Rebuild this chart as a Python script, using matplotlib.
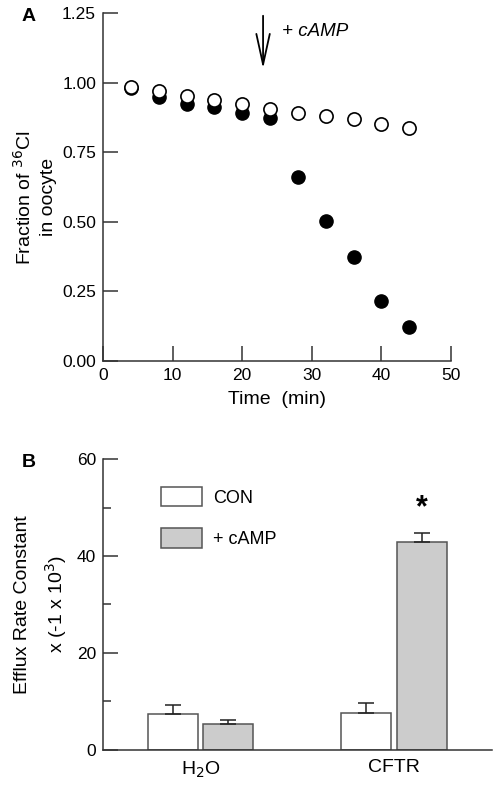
import matplotlib
matplotlib.use("Agg")
import matplotlib.pyplot as plt
from matplotlib.patches import Patch

plt.rcParams['font.family'] = ['Liberation Sans', 'DejaVu Sans']

# panel A data: fraction of 36Cl remaining in oocyte
time_min = [4, 8, 12, 16, 20, 24, 28, 32, 36, 40, 44]
frac_control = [0.984, 0.97, 0.952, 0.938, 0.922, 0.906, 0.891, 0.88, 0.868, 0.851, 0.838]
frac_cftr = [0.982, 0.948, 0.922, 0.911, 0.891, 0.872, 0.662, 0.503, 0.372, 0.217, 0.122]
camp_time = 23

# panel B data: efflux rate constants
groups = ['H$_2$O', 'CFTR']
con_vals = [7.3, 7.5]
con_err = [1.9, 2.1]
camp_vals = [5.4, 43.0]
camp_err = [0.7, 1.8]

axis_col = '#333333'
fig = plt.figure(figsize=(4.98, 7.87), dpi=100)

# ---- panel A ----
ax1 = fig.add_axes([0.2068, 0.5413, 0.6988, 0.4422])
ax1.plot(time_min, frac_cftr, 'o', color='black', markersize=9.5, zorder=2)
ax1.plot(time_min, frac_control, 'o', markerfacecolor='white', markeredgecolor='black',
         markeredgewidth=1.2, markersize=9.5, zorder=3)
ax1.annotate('', xy=(camp_time, 1.04), xytext=(camp_time, 1.25),
             arrowprops=dict(arrowstyle='->,head_length=1.0,head_width=0.22',
                             color='black', lw=1.3, mutation_scale=22))
ax1.text(camp_time + 2.7, 1.185, '+ cAMP', fontsize=13.5, style='italic', va='center')
ax1.set_xlim(0, 50)
ax1.set_ylim(0, 1.25)
ax1.set_xticks([0, 10, 20, 30, 40, 50])
ax1.set_yticks([0, 0.25, 0.5, 0.75, 1.0, 1.25])
ax1.set_yticklabels(['0.00', '0.25', '0.50', '0.75', '1.00', '1.25'])
ax1.tick_params(direction='in', length=11, width=1.1, color=axis_col, labelsize=12.5, pad=5)
ax1.set_xlabel('Time  (min)', fontsize=14, labelpad=6)
ax1.set_ylabel('Fraction of $^{36}$Cl\nin oocyte', fontsize=14, linespacing=1.4)
ax1.yaxis.set_label_coords(-0.133, 0.47)
for s in ['top', 'right']:
    ax1.spines[s].set_visible(False)
for s in ['left', 'bottom']:
    ax1.spines[s].set_color(axis_col)
    ax1.spines[s].set_linewidth(1.1)
fig.text(0.057, 0.979, 'A', fontsize=14, fontweight='bold', va='center', ha='center')

# ---- panel B ----
ax2 = fig.add_axes([0.2068, 0.0474, 0.7805, 0.369])
pos = [1, 2]
w = 0.258
off = 0.1437
ax2.bar([p - off for p in pos], con_vals, w, color='white', edgecolor='#555555', linewidth=1.1,
        yerr=[[0, 0], con_err], capsize=6, error_kw=dict(ecolor='#222222', elinewidth=1.1, capthick=1.1))
ax2.bar([p + off for p in pos], camp_vals, w, color='#cccccc', edgecolor='#555555', linewidth=1.1,
        yerr=[[0, 0], camp_err], capsize=6, error_kw=dict(ecolor='#222222', elinewidth=1.1, capthick=1.1))
ax2.text(pos[1] + off, 49.8, '*', fontsize=22, fontweight='bold', ha='center', va='center')
ax2.set_xlim(0.496, 2.505)
ax2.set_ylim(0, 60)
ax2.set_xticks(pos)
ax2.set_xticklabels(groups, fontsize=14)
ax2.set_yticks([0, 20, 40, 60])
ax2.set_yticks([10, 30, 50], minor=True)
ax2.tick_params(axis='y', which='major', direction='in', length=11, width=1.1, color=axis_col,
                labelsize=12.5, pad=5)
ax2.tick_params(axis='y', which='minor', direction='in', length=6, width=1.1, color=axis_col)
ax2.tick_params(axis='x', length=0, pad=7)
ax2.set_ylabel('Efflux Rate Constant\nx (-1 x 10$^3$)', fontsize=14, linespacing=1.6)
ax2.yaxis.set_label_coords(-0.088, 0.5)
for s in ['top', 'right']:
    ax2.spines[s].set_visible(False)
for s in ['left', 'bottom']:
    ax2.spines[s].set_color(axis_col)
    ax2.spines[s].set_linewidth(1.1)

handles = [Patch(facecolor='white', edgecolor='#555555', linewidth=1.1, label='CON'),
           Patch(facecolor='#cccccc', edgecolor='#555555', linewidth=1.1, label='+ cAMP')]
ax2.legend(handles=handles, loc='upper left', bbox_to_anchor=(0.131, 0.929), frameon=False,
           fontsize=13, handlelength=2.26, handleheight=1.25, labelspacing=1.2,
           handletextpad=0.63, borderaxespad=0)
fig.text(0.057, 0.412, 'B', fontsize=14, fontweight='bold', va='center', ha='center')

fig.savefig('out.png', dpi=100)
